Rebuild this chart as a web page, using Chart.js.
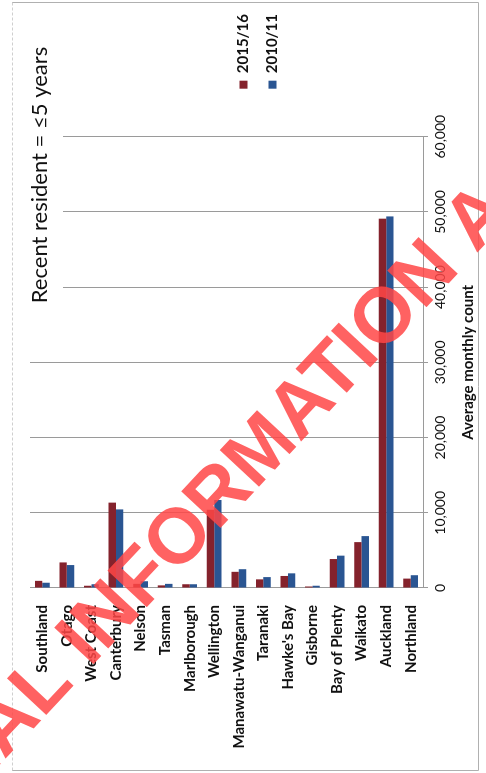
<!DOCTYPE html>
<html>
<head>
<meta charset="utf-8">
<script src="https://cdn.jsdelivr.net/npm/chart.js@4.4.1/dist/chart.umd.min.js"></script>
<style>
  html, body { margin: 0; padding: 0; background: #fff; }
  #page { position: relative; width: 486px; height: 773px; overflow: hidden; background: #fff; }
  /* the scanned page is turned on its side, so the chart is drawn upright and rotated */
  #rot { position: absolute; left: 0; top: 0; width: 773px; height: 486px;
         transform-origin: 0 0; transform: translate(0, 773px) rotate(-90deg); }
</style>
</head>
<body>
<div id="page"><div id="rot"><canvas id="chart" width="773" height="486"></canvas></div></div>
<script>
const regions = ['Southland', 'Otago', 'West Coast', 'Canterbury', 'Nelson', 'Tasman', 'Marlborough',
  'Wellington', 'Manawatu-Wanganui', 'Taranaki', "Hawke's Bay", 'Gisborne', 'Bay of Plenty',
  'Waikato', 'Auckland', 'Northland'];
const count2015 = [950, 3400, 300, 11350, 550, 350, 500, 10400, 2150, 1150, 1600, 200, 3850, 6100, 49100, 1250];
const count2010 = [700, 3050, 500, 10450, 900, 550, 500, 11700, 2500, 1450, 1950, 300, 4300, 6900, 49400, 1700];
const valueTicks = [0, 10000, 20000, 30000, 40000, 50000, 60000];
const chartTitle = 'Recent resident = \u22645 years';
const watermarkText = 'RELEASED UNDER THE OFFICIAL INFORMATION ACT';

// page border, title over the plot, and the red stamp across it
const decor = {
  id: 'decor',
  afterLayout(chart) {
    // legend sits a bit away from the plot in the original
    const shift = chart.chartArea.right + 34 - chart.legend.left;
    chart.legend.left += shift;
    chart.legend.right += shift;
  },
  beforeDraw(chart) {
    const ctx = chart.ctx;
    ctx.save();
    ctx.strokeStyle = '#b0b0b0';
    ctx.lineWidth = 1;
    ctx.beginPath();
    ctx.moveTo(2.5, 12); ctx.lineTo(2.5, 478.5);
    ctx.lineTo(770.5, 478.5); ctx.lineTo(770.5, 12);
    ctx.stroke();
    ctx.setLineDash([3, 2]);
    ctx.strokeStyle = '#cfcfcf';
    ctx.beginPath();
    ctx.moveTo(2.5, 12.5); ctx.lineTo(770.5, 12.5);
    ctx.stroke();
    ctx.restore();
  },
  afterDraw(chart) {
    const ctx = chart.ctx;
    ctx.save();
    ctx.fillStyle = '#fff';
    ctx.fillRect(458, 24, 292, 39);
    ctx.fillStyle = '#111';
    ctx.font = '22px Lato';
    ctx.textAlign = 'center';
    ctx.textBaseline = 'alphabetic';
    ctx.fillText(chartTitle, 598, 47);

    ctx.translate(105, 90);
    ctx.rotate(43 * Math.PI / 180);
    ctx.font = 'bold 78px "Liberation Sans"';
    ctx.textAlign = 'left';
    ctx.fillStyle = 'rgba(255, 70, 70, 0.85)';
    const pre = ctx.measureText('RELEASED UNDER THE OFFICIAL ').width;
    ctx.fillText(watermarkText, -pre, 0);
    ctx.restore();
  }
};

new Chart(document.getElementById('chart'), {
  type: 'bar',
  data: {
    labels: regions,
    datasets: [
      { label: '2015/16', data: count2015, backgroundColor: '#84222c' },
      { label: '2010/11', data: count2010, backgroundColor: '#2a5592' }
    ]
  },
  options: {
    indexAxis: 'y',
    responsive: false,
    animation: false,
    devicePixelRatio: 1,
    layout: { padding: { left: 0, right: 38, top: 30, bottom: 0 } },
    datasets: { bar: { categoryPercentage: 0.6, barPercentage: 1.0 } },
    scales: {
      x: {
        min: 0,
        max: 60000,
        afterBuildTicks: s => { s.ticks = valueTicks.map(v => ({ value: v })); },
        afterFit: s => { s.height = 63; },
        ticks: {
          color: '#111',
          padding: 4,
          font: { family: 'Lato', size: 14 },
          callback: v => v.toLocaleString('en-US')
        },
        grid: { color: '#9a9a9a', tickLength: 5 },
        border: { color: '#9a9a9a' },
        title: {
          display: true,
          text: 'Average monthly count',
          color: '#111',
          font: { family: 'Lato', size: 15, weight: 'bold' },
          padding: { top: 4, bottom: 9 }
        }
      },
      y: {
        afterFit: s => { s.width = 185; },
        ticks: {
          color: '#111',
          padding: 17,
          font: { family: 'Lato', size: 15, weight: 'bold' }
        },
        grid: { display: false, drawTicks: false },
        border: { display: true, color: '#9a9a9a' }
      }
    },
    plugins: {
      title: { display: false },
      tooltip: { enabled: false },
      legend: {
        position: 'right',
        align: 'center',
        labels: {
          boxWidth: 8,
          boxHeight: 8,
          padding: 14,
          color: '#111',
          font: { family: 'Lato', size: 15, weight: 'bold' }
        }
      }
    }
  },
  plugins: [decor]
});
</script>
</body>
</html>
